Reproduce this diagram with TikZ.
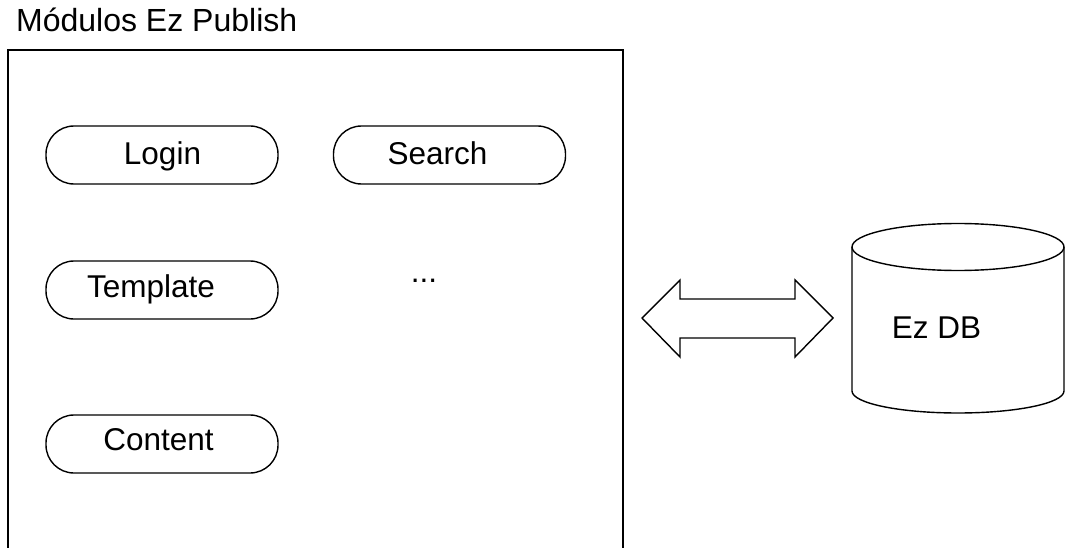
\documentclass[tikz,border=0pt]{standalone}
\usepackage{fontspec}
\setmainfont{Liberation Sans}
\begin{document}
\begin{tikzpicture}[x=1pt,y=-1pt,
  pill/.style={draw, line width=1.4pt, rounded corners=28pt, minimum width=232pt, minimum height=58pt, inner sep=0pt},
  lbl/.style={anchor=base, inner sep=0pt, font=\fontsize{31.5}{36}\selectfont},
  frame/.style={draw, line width=1.8pt},
  thin/.style={draw, line width=1.4pt, line join=miter}]
\useasboundingbox (0,0) rectangle (1065,548);
% title
\node[anchor=base west, inner sep=0pt, font=\fontsize{32}{36}\selectfont] (title) at (16,32) {Módulos Ez Publish};
% module frame (open at bottom)
\draw[frame] (8,560) -- (8,50) -- (623,50) -- (623,560);
% pills
\node[pill] (login) at (162,155) {};
\node[pill] (search) at (449.5,155) {};
\node[pill] (template) at (162,290) {};
\node[pill] (content) at (162,444) {};
\node[lbl] (tlogin) at (162.5,165) {Login};
\node[lbl] (tsearch) at (437.5,165) {Search};
\node[lbl] (ttemplate) at (151,297) {Template};
\node[lbl] (tcontent) at (158.5,450.5) {Content};
\node[lbl] (dots) at (424,282) {...};
% double arrow
\draw[thin] (642,318) -- (680,280) -- (680,299) -- (795,299) -- (795,280) -- (833,318)
  -- (795,357) -- (795,338) -- (680,338) -- (680,357) -- cycle;
% database cylinder
\draw[thin] (852,247) -- (852,391) arc[start angle=180, end angle=0, x radius=106, y radius=22]
  -- (1064,247);
\draw[thin] (958,247) ellipse[x radius=106, y radius=23.5];
\node[lbl] (db) at (936.5,338) {Ez DB};
\end{tikzpicture}
\end{document}
